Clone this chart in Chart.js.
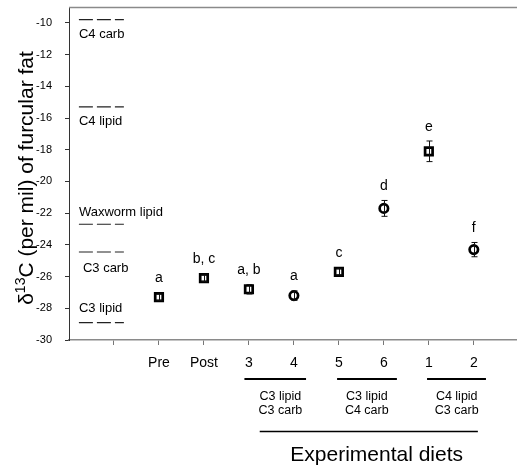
<!DOCTYPE html>
<html><head><meta charset="utf-8">
<script src="https://cdn.jsdelivr.net/npm/chart.js@4/dist/chart.umd.min.js"></script>
<style>html,body{margin:0;padding:0;background:#fff}canvas{display:block}</style>
</head><body>
<canvas id="c" width="517" height="468"></canvas>
<script>
// ---- data ----
const categories = ['Pre', 'Post', '3', '4', '5', '6', '1', '2'];
const categoryPositions = [2, 3, 4, 5, 6, 7, 8, 9];
const means = [-27.3, -26.1, -26.8, -27.2, -25.7, -21.7, -18.1, -24.3];
const errors = [0.2, 0.2, 0.3, 0.3, 0.2, 0.5, 0.65, 0.45];
const markerShapes = ['rect', 'rect', 'rect', 'circle', 'rect', 'circle', 'rect', 'circle'];
const sigLetters = ['a', 'b, c', 'a, b', 'a', 'c', 'd', 'e', 'f'];
const refNames = ['C4 carb', 'C4 lipid', 'Waxworm lipid', 'C3 carb', 'C3 lipid'];
const refValues = [-9.8, -15.3, -22.7, -24.45, -28.9];
const yTicks = [-30, -28, -26, -24, -22, -20, -18, -16, -14, -12, -10];
const dietGroups = [['C3 lipid', 'C3 carb'], ['C3 lipid', 'C4 carb'], ['C4 lipid', 'C3 carb']];
const dietGroupTitle = 'Experimental diets';

// ---- layout helpers (not data) ----
const groupSpans = [[3.9, 5.27], [5.96, 7.29], [7.96, 9.27]];
const groupTextCenters = [4.7, 6.62, 8.62];
const allSpan = [4.24, 9.09];
const allTitleCenter = 6.84;
const refSpan = [0.22, 1.22];
const refLabelOffsets = [15, 15, -12, 16, -14];
const FONT = 'Liberation Sans, Arial, Helvetica, sans-serif';

const tickLabel = {};
categoryPositions.forEach((p, i) => tickLabel[p] = categories[i]);

const refDatasets = refValues.map(v => ({
  type: 'line',
  data: [{x: refSpan[0], y: v}, {x: refSpan[1], y: v}],
  borderColor: '#222', borderWidth: 1.2, borderDash: [14, 4],
  pointRadius: 0, fill: false
}));

const annot = {
  id: 'annot',
  afterDatasetsDraw(chart) {
    const {ctx, scales: {x, y}, chartArea} = chart;
    ctx.save();
    // top frame line
    ctx.strokeStyle = '#8a8a8a'; ctx.lineWidth = 1.5;
    ctx.beginPath(); ctx.moveTo(chartArea.left, chartArea.top + 0.5); ctx.lineTo(chartArea.right, chartArea.top + 0.5); ctx.stroke();

    // error bars
    ctx.strokeStyle = '#111'; ctx.lineWidth = 1;
    categoryPositions.forEach((p, i) => {
      const px = Math.round(x.getPixelForValue(p)) + 0.5;
      const top = y.getPixelForValue(means[i] + errors[i]);
      const bot = y.getPixelForValue(means[i] - errors[i]);
      ctx.beginPath();
      ctx.moveTo(px, top); ctx.lineTo(px, bot);
      ctx.moveTo(px - 3, top); ctx.lineTo(px + 3, top);
      ctx.moveTo(px - 3, bot); ctx.lineTo(px + 3, bot);
      ctx.stroke();
    });

    // significance letters
    ctx.fillStyle = '#000'; ctx.font = '14px ' + FONT;
    ctx.textAlign = 'center'; ctx.textBaseline = 'middle';
    categoryPositions.forEach((p, i) => {
      const px = x.getPixelForValue(p);
      const top = Math.min(y.getPixelForValue(means[i] + errors[i]), y.getPixelForValue(means[i]) - 5);
      ctx.fillText(sigLetters[i], px, top - 14);
    });

    // reference labels
    ctx.textAlign = 'left'; ctx.font = '13px ' + FONT;
    refNames.forEach((n, i) => {
      const px = x.getPixelForValue(refSpan[0]) + (n === 'C3 carb' ? 4 : 0);
      ctx.fillText(n, px, y.getPixelForValue(refValues[i]) + refLabelOffsets[i]);
    });

    // diet group brackets
    const base = chartArea.bottom;
    ctx.strokeStyle = '#000'; ctx.lineWidth = 2;
    groupSpans.forEach((s, i) => {
      ctx.beginPath();
      ctx.moveTo(x.getPixelForValue(s[0]), base + 39); ctx.lineTo(x.getPixelForValue(s[1]), base + 39);
      ctx.stroke();
      const cx = x.getPixelForValue(groupTextCenters[i]);
      ctx.textAlign = 'center'; ctx.font = '12.5px ' + FONT;
      ctx.fillText(dietGroups[i][0], cx, base + 57);
      ctx.fillText(dietGroups[i][1], cx, base + 71);
    });
    ctx.lineWidth = 1.5;
    ctx.beginPath();
    ctx.moveTo(x.getPixelForValue(allSpan[0]), base + 91.5); ctx.lineTo(x.getPixelForValue(allSpan[1]), base + 91.5);
    ctx.stroke();
    ctx.font = '21px ' + FONT; ctx.textBaseline = 'alphabetic';
    ctx.fillText(dietGroupTitle, x.getPixelForValue(allTitleCenter), base + 121);

    // y title with superscript
    ctx.translate(33, 178);
    ctx.rotate(-Math.PI / 2);
    const big = '21px ' + FONT, small = '14px ' + FONT;
    const parts = [['δ', big, 0], ['13', small, -8], ['C (per mil) of furcular fat', big, 0]];
    let total = 0;
    parts.forEach(pt => { ctx.font = pt[1]; total += ctx.measureText(pt[0]).width; });
    let cx = -total / 2;
    ctx.textAlign = 'left';
    parts.forEach(pt => { ctx.font = pt[1]; ctx.fillText(pt[0], cx, pt[2]); cx += ctx.measureText(pt[0]).width; });
    ctx.restore();
  }
};

new Chart(document.getElementById('c'), {
  type: 'scatter',
  data: {
    datasets: [
      {
        data: categoryPositions.map((p, i) => ({x: p, y: means[i]})),
        pointStyle: markerShapes,
        pointRadius: markerShapes.map(s => s === 'rect' ? 5.3 : 4.2),
        pointBorderWidth: 2.7,
        pointBackgroundColor: '#fff',
        pointBorderColor: '#000',
        showLine: false
      },
      ...refDatasets
    ]
  },
  plugins: [annot],
  options: {
    responsive: false,
    animation: false,
    layout: {autoPadding: false, padding: {top: 7, right: 0, left: 0, bottom: 0}},
    plugins: {legend: {display: false}, tooltip: {enabled: false}},
    scales: {
      x: {
        type: 'linear', min: 0, max: 9.96,
        afterBuildTicks: s => { s.ticks = categoryPositions.concat([1]).sort((a, b) => a - b).map(v => ({value: v})); },
        afterFit: s => { s.height = 128; s.paddingLeft = 0; s.paddingRight = 0; },
        ticks: {
          callback: v => tickLabel[v] || '',
          font: {family: FONT, size: 14}, color: '#000', padding: 10, maxRotation: 0, autoSkip: false
        },
        grid: {drawOnChartArea: false, drawTicks: true, tickLength: 5, color: '#777'},
        border: {color: '#8a8a8a', width: 1.5}
      },
      y: {
        min: -30, max: -9,
        afterBuildTicks: s => { s.ticks = yTicks.map(v => ({value: v})); },
        afterFit: s => { s.width = 69; s.paddingTop = 0; s.paddingBottom = 0; },
        ticks: {font: {family: FONT, size: 11}, color: '#000', padding: 13},
        grid: {drawOnChartArea: false, drawTicks: true, tickLength: 4, color: '#333'},
        border: {color: '#333', width: 1}
      }
    }
  }
});
</script>
</body></html>
